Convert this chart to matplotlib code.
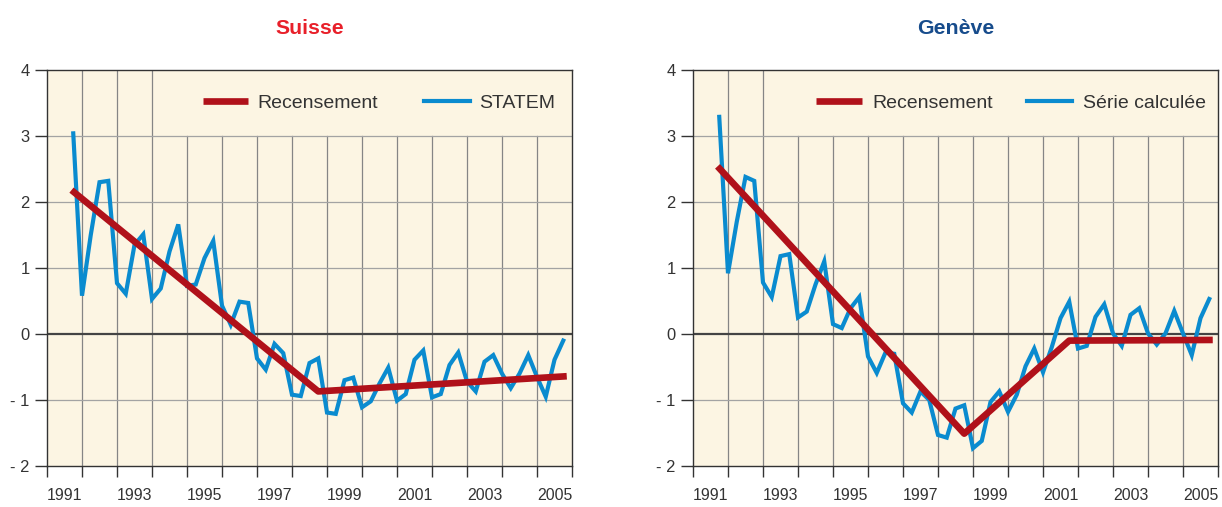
import numpy as np
import pandas as pd
import matplotlib
matplotlib.use("Agg")
import matplotlib.pyplot as plt
from matplotlib import font_manager
from matplotlib.ticker import FixedLocator, FixedFormatter, NullFormatter

# the source uses a narrow Helvetica-like face
names = {f.name for f in font_manager.fontManager.ttflist}
NARROW = "Liberation Sans Narrow" in names
plt.rcParams['font.family'] = ['Liberation Sans Narrow' if NARROW else 'Liberation Sans', 'DejaVu Sans']
scale = 1.0 if NARROW else 0.85

# quarterly series, 1991 Q4 .. 2005 Q4
quarters = pd.period_range("1991Q4", "2005Q4", freq="Q")
suisse_statem = [
    3.04, 0.58, 1.50, 2.30, 2.32, 0.77, 0.61, 1.35, 1.51, 0.53, 0.69, 1.25, 1.66,
    0.73, 0.75, 1.15, 1.41, 0.43, 0.14, 0.49, 0.47, -0.37, -0.54, -0.15, -0.29,
    -0.92, -0.94, -0.44, -0.37, -1.19, -1.21, -0.70, -0.66, -1.11, -1.02, -0.75,
    -0.51, -1.01, -0.91, -0.39, -0.25, -0.96, -0.91, -0.47, -0.28, -0.72, -0.87,
    -0.42, -0.32, -0.60, -0.82, -0.60, -0.32, -0.65, -0.95, -0.39, -0.10,
]
geneve_serie = [
    3.29, 0.92, 1.70, 2.38, 2.32, 0.78, 0.56, 1.18, 1.21, 0.25, 0.34, 0.75, 1.10,
    0.15, 0.09, 0.39, 0.56, -0.34, -0.59, -0.28, -0.30, -1.05, -1.19, -0.87, -1.00,
    -1.53, -1.57, -1.13, -1.08, -1.73, -1.62, -1.03, -0.87, -1.18, -0.92, -0.49,
    -0.22, -0.58, -0.20, 0.24, 0.49, -0.22, -0.18, 0.26, 0.45, 0.01, -0.18, 0.29,
    0.39, 0.01, -0.16, 0.01, 0.35, 0.01, -0.32, 0.24, 0.53,
]

# census (recensement) segments
suisse_rec_x = [1991.7, 1998.75, 2005.85]
suisse_rec_y = [2.18, -0.87, -0.64]
geneve_rec_x = [1991.7, 1998.75, 2001.75, 2005.85]
geneve_rec_y = [2.54, -1.51, -0.10, -0.09]

y_ticks = [4, 3, 2, 1, 0, -1, -2]
y_tick_labels = ["4", "3", "2", "1", "0", "- 1", "- 2"]
year_labels = ["1991", "1993", "1995", "1997", "1999", "2001", "2003", "2005"]

BG = "#fcf5e3"
BLUE = "#0a8bcf"
RED = "#b0111a"
DARK = "#333333"

t = quarters.year + (quarters.quarter - 1) / 4.0

fig = plt.figure(figsize=(12.22, 5.07), dpi=100)
ax1 = fig.add_axes([47 / 1222, 41 / 507, 525 / 1222, 396 / 507])
ax2 = fig.add_axes([693 / 1222, 41 / 507, 525 / 1222, 396 / 507])


def style_panel(ax, title, title_color, legend_start, series_label, series, rec_x, rec_y,
                leg_x, colspace, textpad):
    ax.set_facecolor(BG)
    ax.set_xlim(1991, 2006)
    ax.set_ylim(-2, 4)

    # vertical grid stops under the legend strip
    for yr in np.arange(1992, 2006):
        top = 3 if yr >= legend_start else 4
        ax.plot([yr, yr], [-2, top], color="#858585", lw=0.9, zorder=1)
    for yv in y_ticks:
        if yv == 0:
            ax.axhline(yv, color="#444444", lw=1.6, zorder=1)
        elif yv not in (4, -2):
            ax.axhline(yv, color="#a3a3a3", lw=0.9, zorder=1)

    ax.plot(t, series, color=BLUE, lw=3.0, solid_joinstyle="miter", zorder=3,
            label=series_label)
    ax.plot(rec_x, rec_y, color=RED, lw=4.8, solid_capstyle="butt", zorder=4,
            label="Recensement")

    for s in ax.spines.values():
        s.set_color(DARK)
        s.set_linewidth(1.0)

    ax.yaxis.set_major_locator(FixedLocator(y_ticks))
    ax.yaxis.set_major_formatter(FixedFormatter(y_tick_labels))
    ax.tick_params(axis="y", length=8.5, width=1.0, color=DARK, labelsize=14 * scale,
                   labelcolor=DARK, pad=4)

    ax.xaxis.set_major_locator(FixedLocator(list(np.arange(1991, 2007))))
    ax.xaxis.set_major_formatter(NullFormatter())
    label_pos = [int(y) + 0.5 for y in year_labels]
    ax.xaxis.set_minor_locator(FixedLocator(label_pos))
    ax.xaxis.set_minor_formatter(FixedFormatter(year_labels))
    ax.tick_params(axis="x", which="major", length=8, width=1.0, color=DARK)
    ax.tick_params(axis="x", which="minor", length=0, labelsize=13.5 * scale,
                   labelcolor=DARK, pad=16)

    ax.set_title(title, color=title_color, fontsize=18 * scale, fontweight="bold", pad=26)

    handles, labels = ax.get_legend_handles_labels()
    leg = ax.legend(handles[::-1], labels[::-1], loc="center",
                    bbox_to_anchor=(leg_x, 0.917), ncol=2, frameon=False,
                    fontsize=16.5 * scale, handlelength=2.0 / scale, handletextpad=textpad,
                    columnspacing=colspace, borderaxespad=0)
    for txt in leg.get_texts():
        txt.set_color(DARK)


style_panel(ax1, "Suisse", "#e8202a", 1995, "STATEM", suisse_statem,
            suisse_rec_x, suisse_rec_y, 0.632, 2.4, 0.45)
style_panel(ax2, "Genève", "#174c8c", 1994, "Série calculée", geneve_serie,
            geneve_rec_x, geneve_rec_y, 0.606, 1.7, 0.55)

fig.savefig("out.png", dpi=100, facecolor="white")
